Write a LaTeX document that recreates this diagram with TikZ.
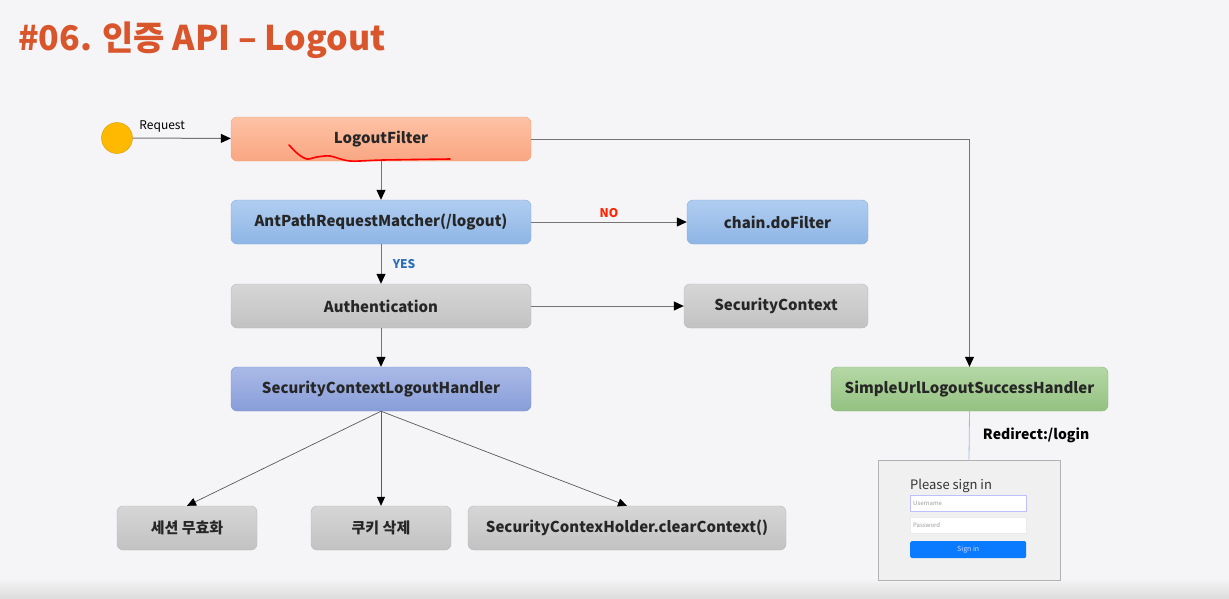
\documentclass[tikz,border=0pt]{standalone}
\usepackage{fontspec}
\setmainfont{Noto Sans CJK KR}
\usetikzlibrary{arrows.meta}
\definecolor{bgcol}{HTML}{F5F5F7}
\definecolor{titlecol}{HTML}{D9552B}
\definecolor{orgtop}{HTML}{FDC2A5}
\definecolor{orgbot}{HTML}{F9A682}
\definecolor{orgline}{HTML}{F2A07E}
\definecolor{blutop}{HTML}{B0CDF0}
\definecolor{blubot}{HTML}{8EB5E5}
\definecolor{bluline}{HTML}{86ACDD}
\definecolor{grytop}{HTML}{D6D6D6}
\definecolor{grybot}{HTML}{C2C2C2}
\definecolor{gryline}{HTML}{B8B8B8}
\definecolor{purtop}{HTML}{AABAE7}
\definecolor{purbot}{HTML}{889DD9}
\definecolor{purline}{HTML}{8095D0}
\definecolor{grntop}{HTML}{B5D8A6}
\definecolor{grnbot}{HTML}{94C181}
\definecolor{grnline}{HTML}{8AB977}
\definecolor{signblue}{HTML}{0A7BFF}
\definecolor{nocol}{HTML}{FF2200}
\definecolor{yescol}{HTML}{2A6EBB}
\definecolor{linkcol}{HTML}{A3B9E0}
\definecolor{startcol}{HTML}{FFB900}
\definecolor{startline}{HTML}{D49A10}
\begin{document}
\begin{tikzpicture}[x=1pt,y=-1pt,
  box/.style={rounded corners=6pt, minimum height=44pt, inner sep=0pt,
    font=\fontsize{15}{18}\selectfont\bfseries, text=black!85},
  orangebox/.style={box, draw=orgline, top color=orgtop, bottom color=orgbot},
  bluebox/.style={box, draw=bluline, top color=blutop, bottom color=blubot},
  graybox/.style={box, draw=gryline, top color=grytop, bottom color=grybot},
  purplebox/.style={box, draw=purline, top color=purtop, bottom color=purbot},
  greenbox/.style={box, draw=grnline, top color=grntop, bottom color=grnbot},
  flow/.style={draw=black!55, line width=1pt, -{Triangle[length=10pt,width=9pt,color=black]}},
  fan/.style={draw=black!65, line width=0.7pt, -{Triangle[length=9pt,width=8pt,color=black]}},
  field/.style={draw=#1, fill=white, minimum width=116pt, minimum height=16pt, inner sep=0pt},
  lbl/.style={font=\fontsize{12}{14}\selectfont\bfseries}]

  % background
  \fill[bgcol] (0,0) rectangle (1229,598);
  \shade[top color=bgcol, bottom color=black!13] (0,578) rectangle (1229,598);
  \useasboundingbox (0,0) rectangle (1229,598);

  % title
  \node[anchor=base west, inner sep=0pt, text=titlecol, font=\fontsize{34}{38}\selectfont\bfseries]
    (title) at (18,50) {\#06. 인증 API – Logout};

  % main flow
  \node[circle, draw=startline, fill=startcol, minimum size=31pt, inner sep=0pt] (start) at (117,138) {};
  \node[orangebox, minimum width=300pt] (logout) at (381,139) {LogoutFilter};
  \node[bluebox, minimum width=300pt] (antpath) at (381,222) {AntPathRequestMatcher(/logout)};
  \node[bluebox, minimum width=181pt] (chain) at (777.5,222) {chain.doFilter};
  \node[graybox, minimum width=300pt] (auth) at (381,306) {Authentication};
  \node[graybox, minimum width=184pt] (secctx) at (776,306) {SecurityContext};
  \node[purplebox, minimum width=300pt] (handler) at (381,389) {SecurityContextLogoutHandler};
  \node[greenbox, minimum width=277pt] (simple) at (969.5,389) {SimpleUrlLogoutSuccessHandler};

  % handler tasks
  \node[graybox, minimum width=140pt] (session) at (187,528) {세션 무효화};
  \node[graybox, minimum width=140pt] (cookie) at (381,528) {쿠키 삭제};
  \node[graybox, minimum width=318pt] (clear) at (627,528) {SecurityContexHolder.clearContext()};

  % login page
  \node[draw=black!30, fill=black!6, line width=1pt, minimum width=182pt, minimum height=120pt, inner sep=0pt] (loginbox) at (969,520) {};
  \node[anchor=west, inner sep=0pt, text=black!80, font=\fontsize{13}{15}\selectfont] (please) at (910,486) {Please sign in};
  \node[field=blue!25, anchor=north west] (user) at (910,495) {};
  \node[anchor=west, inner sep=3pt, text=black!40, font=\fontsize{6}{7}\selectfont] at (user.west) {Username};
  \node[field=black!8, anchor=north west] (pass) at (910,517) {};
  \node[anchor=west, inner sep=3pt, text=black!40, font=\fontsize{6}{7}\selectfont] at (pass.west) {Password};
  \node[fill=signblue, rounded corners=1.5pt, minimum width=116pt, minimum height=17pt, inner sep=0pt, anchor=north west,
    text=white!85!blue, font=\fontsize{7}{8}\selectfont] (signin) at (910,541) {Sign in};

  % connectors
  \draw[flow] (start) -- node[above, pos=0.3, yshift=2pt, font=\fontsize{12}{14}\selectfont] {Request} (logout);
  \draw[flow] (logout.east) -| (simple.north);
  \draw[flow] (logout) -- (antpath);
  \draw[flow] (antpath) -- node[above, text=nocol, lbl, yshift=1pt] {NO} (chain);
  \draw[flow] (antpath) -- node[right=8pt, text=yescol, lbl] {YES} (auth);
  \draw[flow] (auth) -- (secctx);
  \draw[flow] (auth) -- (handler);
  \draw[fan] (handler.south) -- (session.north);
  \draw[fan] (handler.south) -- (cookie.north);
  \draw[fan] (handler.south) -- (clear.north);
  \draw[draw=linkcol, line width=0.8pt] (simple.south) -- node[right=10pt, font=\fontsize{14}{16}\selectfont\bfseries] {Redirect:/login} (loginbox.north);

  % red pen mark
  \draw[red, line width=1.6pt, line cap=round] plot[smooth] coordinates {(289,145) (298,154) (307,159) (317,157) (330,156) (350,161) (383,160) (450,159)};
\end{tikzpicture}
\end{document}
